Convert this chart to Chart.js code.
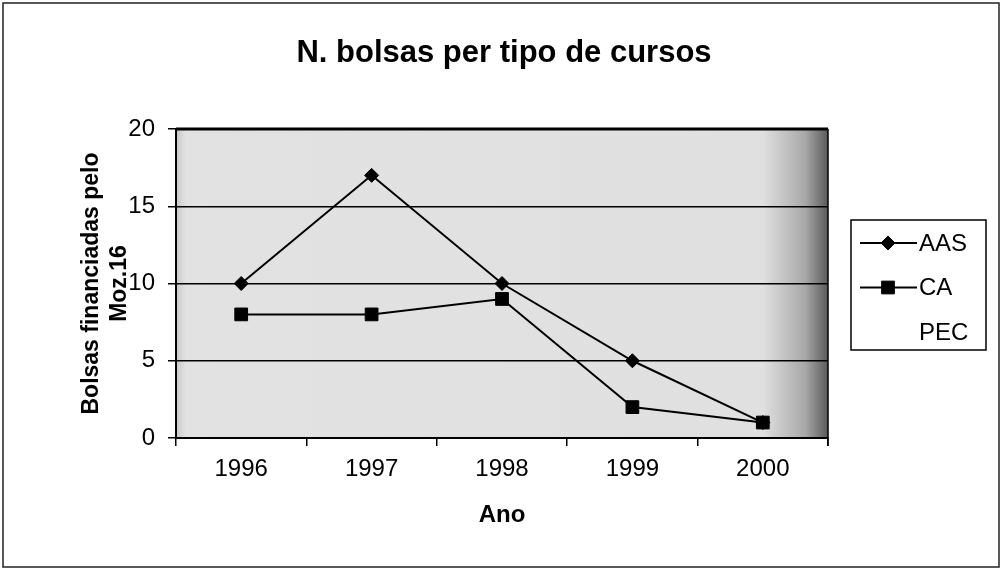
<!DOCTYPE html>
<html>
<head>
<meta charset="utf-8">
<script src="https://cdn.jsdelivr.net/npm/chart.js@4.4.1/dist/chart.umd.min.js"></script>
<style>
  html, body { margin: 0; padding: 0; background: #fff; }
  #wrap { width: 1002px; height: 570px; position: relative; }
</style>
</head>
<body>
<div id="wrap"><canvas id="grafico" width="1002" height="570"></canvas></div>
<script>
// dados
const anos = ['1996', '1997', '1998', '1999', '2000'];
const aas = [10, 17, 10, 5, 1];
const ca = [8, 8, 9, 2, 1];
const pec = [];
const yTicks = [0, 5, 10, 15, 20];

const fonte = "Arial, 'Liberation Sans', sans-serif";

// fundo da área do gráfico, moldura, título e legenda
const molduraPlugin = {
    id: 'moldura',
    beforeDraw(chart) {
        const { ctx, chartArea: a } = chart;
        ctx.save();
        const g = ctx.createLinearGradient(a.left, 0, a.right, 0);
        g.addColorStop(0, '#c8c8c8');
        g.addColorStop(0.015, '#e2e2e2');
        g.addColorStop(0.9, '#e0e0e0');
        g.addColorStop(0.965, '#a8a8a8');
        g.addColorStop(1, '#5a5a5a');
        ctx.fillStyle = g;
        ctx.fillRect(a.left, a.top, a.right - a.left, a.bottom - a.top);
        ctx.restore();
    },
    afterDraw(chart) {
        const { ctx, chartArea: a } = chart;
        ctx.save();
        // moldura externa
        ctx.strokeStyle = '#222';
        ctx.lineWidth = 1.5;
        ctx.strokeRect(3, 3, 996, 564);
        // bordas de cima e da direita
        ctx.strokeStyle = '#000';
        ctx.lineWidth = 3;
        ctx.beginPath();
        ctx.moveTo(a.left, a.top);
        ctx.lineTo(a.right, a.top);
        ctx.stroke();
        ctx.lineWidth = 1.5;
        ctx.beginPath();
        ctx.moveTo(a.right, a.top);
        ctx.lineTo(a.right, a.bottom + 8);
        ctx.stroke();
        // título
        ctx.fillStyle = '#000';
        ctx.font = 'bold 31px ' + fonte;
        ctx.textAlign = 'center';
        ctx.textBaseline = 'middle';
        ctx.fillText('N. bolsas per tipo de cursos', 504, 53);
        // legenda
        const bx = 851, by = 220, bw = 135, bh = 130;
        ctx.fillStyle = '#fff';
        ctx.fillRect(bx, by, bw, bh);
        ctx.strokeStyle = '#000';
        ctx.lineWidth = 1.5;
        ctx.strokeRect(bx, by, bw, bh);
        ctx.font = '24px ' + fonte;
        ctx.textAlign = 'left';
        chart.data.datasets.forEach((ds, i) => {
            const y = 243 + i * 44.5;
            ctx.strokeStyle = ds.borderColor;
            ctx.lineWidth = ds.borderWidth;
            ctx.beginPath();
            ctx.moveTo(860, y);
            ctx.lineTo(917, y);
            ctx.stroke();
            if (ds.pointRadius > 0) {
                ctx.fillStyle = ds.backgroundColor;
                ctx.lineWidth = 1;
                Chart.helpers.drawPoint(ctx, {
                    pointStyle: ds.pointStyle,
                    radius: ds.pointRadius,
                    borderWidth: 1
                }, 888, y);
            }
            ctx.fillStyle = '#000';
            ctx.fillText(ds.label, 919, y + 1);
        });
        ctx.restore();
    }
};

const ctx = document.getElementById('grafico').getContext('2d');
new Chart(ctx, {
    type: 'line',
    data: {
        labels: anos,
        datasets: [{
            label: 'AAS',
            data: aas,
            borderColor: '#000',
            backgroundColor: '#000',
            borderWidth: 2,
            pointStyle: 'rectRot',
            pointRadius: 7,
            pointBorderWidth: 1
        }, {
            label: 'CA',
            data: ca,
            borderColor: '#000',
            backgroundColor: '#000',
            borderWidth: 2,
            pointStyle: 'rect',
            pointRadius: 9,
            pointBorderWidth: 1
        }, {
            label: 'PEC',
            data: pec,
            borderColor: '#ffffff',
            backgroundColor: '#ffffff',
            borderWidth: 2,
            pointRadius: 0
        }]
    },
    options: {
        responsive: false,
        animation: false,
        layout: { padding: { left: 0, top: 129, right: 174, bottom: 0 } },
        plugins: {
            legend: { display: false },
            title: { display: false },
            tooltip: { enabled: false }
        },
        scales: {
            x: {
                offset: true,
                grid: { offset: true, drawOnChartArea: false, color: '#000', tickLength: 8, lineWidth: 1.5 },
                border: { color: '#000', width: 2 },
                ticks: { color: '#000', padding: 9, font: { family: fonte, size: 24 } },
                title: {
                    display: true,
                    text: 'Ano',
                    color: '#000',
                    font: { family: fonte, size: 24, weight: 'bold' },
                    padding: { top: 0, bottom: 40 }
                },
                afterFit(scale) { scale.height = 570 - 438; }
            },
            y: {
                min: 0,
                max: 20,
                afterBuildTicks(scale) { scale.ticks = yTicks.map(v => ({ value: v })); },
                grid: { color: '#000', lineWidth: 1.5, tickLength: 8 },
                border: { color: '#000', width: 2 },
                ticks: { color: '#000', padding: 13, font: { family: fonte, size: 24 } },
                title: {
                    display: true,
                    text: ['Bolsas financiadas pelo', 'Moz.16'],
                    color: '#000',
                    font: { family: fonte, size: 23, weight: 'bold' },
                    padding: { top: 78, bottom: 0 }
                },
                afterFit(scale) { scale.width = 176; }
            }
        }
    },
    plugins: [molduraPlugin]
});
</script>
</body>
</html>
